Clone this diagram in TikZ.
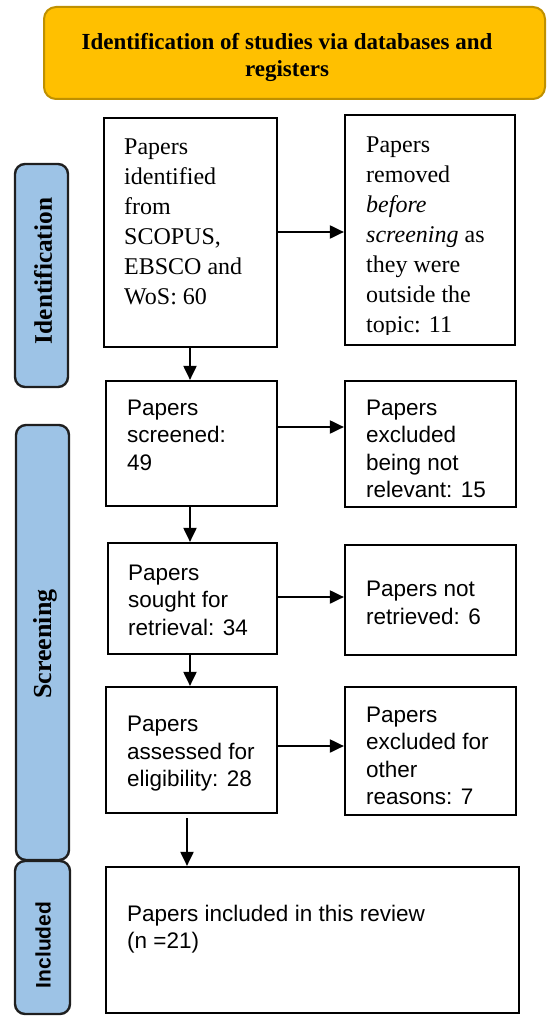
\documentclass[tikz,border=0pt]{standalone}
\usepackage{fontspec}
\setmainfont{Liberation Serif}
\newfontfamily\arialf{Liberation Sans}
\usetikzlibrary{arrows.meta,fit}
\definecolor{gold}{HTML}{FFC000}
\definecolor{goldline}{HTML}{BF9000}
\definecolor{lblue}{HTML}{9DC3E6}
\definecolor{lblline}{HTML}{1F1F1F}
\begin{document}
\begin{tikzpicture}[x=1pt,y=-1pt,
  box/.style={draw=black,line width=2.2pt,inner sep=0pt,fill=white},
  lbl/.style={draw=lblline,line width=2.4pt,fill=lblue,rounded corners=10pt,inner sep=0pt},
  serift/.style={anchor=north west,inner sep=0pt,align=left,font=\fontsize{24}{30}\selectfont,execute at begin node=\strut},
  sanst/.style={anchor=north west,inner sep=0pt,align=left,font=\arialf\fontsize{22.5}{27.5}\selectfont,execute at begin node=\strut},
  arr/.style={line width=2pt,-{Triangle[length=14pt,width=13pt]}}]
\useasboundingbox (0,0) rectangle (547,1016);
% banner
\node[draw=goldline,line width=2pt,fill=gold,rounded corners=12pt,inner sep=0pt,fit={(44,7) (545,99)}] (ban) {};
\node[inner sep=0pt,align=center,font=\bfseries\fontsize{23}{27}\selectfont] (bant) at (287,57) {Identification of studies via databases and\\registers};
% side labels
\node[lbl,fit={(15,164) (68,387)}] (lid) {};
\node[rotate=90,inner sep=0pt,font=\bfseries\fontsize{25.3}{30}\selectfont] (lidt) at (43,271) {Identification};
\node[lbl,fit={(16,425) (69,860)}] (lsc) {};
\node[rotate=90,inner sep=0pt,font=\bfseries\fontsize{26}{30}\selectfont] (lsct) at (45,644) {Screening};
\node[lbl,fit={(15,861) (70,1014)}] (lin) {};
\node[rotate=90,inner sep=0pt,font=\arialf\bfseries\fontsize{21}{25}\selectfont] (lint) at (43,945) {Included};
% boxes
\node[box,fit={(104,118) (277,347)}] (b1) {};
\node[serift] (t1) at (124,139) {Papers\\identified\\from\\SCOPUS,\\EBSCO and\\WoS: 60};
\node[box,fit={(345,115) (515,345)}] (b2) {};
\begin{scope}
\clip (346,116) rectangle (514,334);
\node[serift] (t2) at (366,137) {Papers\\removed\\\textit{before}\\\textit{screening} as\\they were\\outside the\\topic: 11};
\end{scope}
\node[box,fit={(106,381) (277,506)}] (b3) {};
\node[sanst] (t3) at (127,399.5) {Papers\\screened:\\49};
\node[box,fit={(345,381) (516,507)}] (b4) {};
\node[sanst] (t4) at (366,399.5) {Papers\\excluded\\being not\\relevant: 15};
\node[box,fit={(108,543) (277,654)}] (b5) {};
\node[sanst] (t5) at (128,564.5) {Papers\\sought for\\retrieval: 34};
\node[box,fit={(345,545) (516,655)}] (b6) {};
\node[sanst] (t6) at (366,581) {Papers not\\retrieved: 6};
\node[box,fit={(106,687) (277,813)}] (b7) {};
\node[sanst] (t7) at (127,716) {Papers\\assessed for\\eligibility: 28};
\node[box,fit={(345,687) (516,815)}] (b8) {};
\node[sanst] (t8) at (366,706.5) {Papers\\excluded for\\other\\reasons: 7};
\node[box,fit={(106,867) (519,1013)}] (b9) {};
\node[sanst] (t9) at (127,904.5) {Papers included in this review\\(n =21)};
% connectors
\coordinate (y12) at (0,232);
\coordinate (y34) at (0,427);
\coordinate (y56) at (0,597);
\coordinate (y78) at (0,746);
\coordinate (x13) at (190,0);
\coordinate (x79) at (187,0);
\coordinate (s79) at (187,818);
\draw[arr] (b1.east |- y12) -- (b2.west |- y12);
\draw[arr] (b3.east |- y34) -- (b4.west |- y34);
\draw[arr] (b5.east |- y56) -- (b6.west |- y56);
\draw[arr] (b7.east |- y78) -- (b8.west |- y78);
\draw[arr] (x13 |- b1.south) -- (x13 |- b3.north);
\draw[arr] (x13 |- b3.south) -- (x13 |- b5.north);
\draw[arr] (x13 |- b5.south) -- (x13 |- b7.north);
\draw[arr] (s79) -- (x79 |- b9.north);
\end{tikzpicture}
\end{document}
